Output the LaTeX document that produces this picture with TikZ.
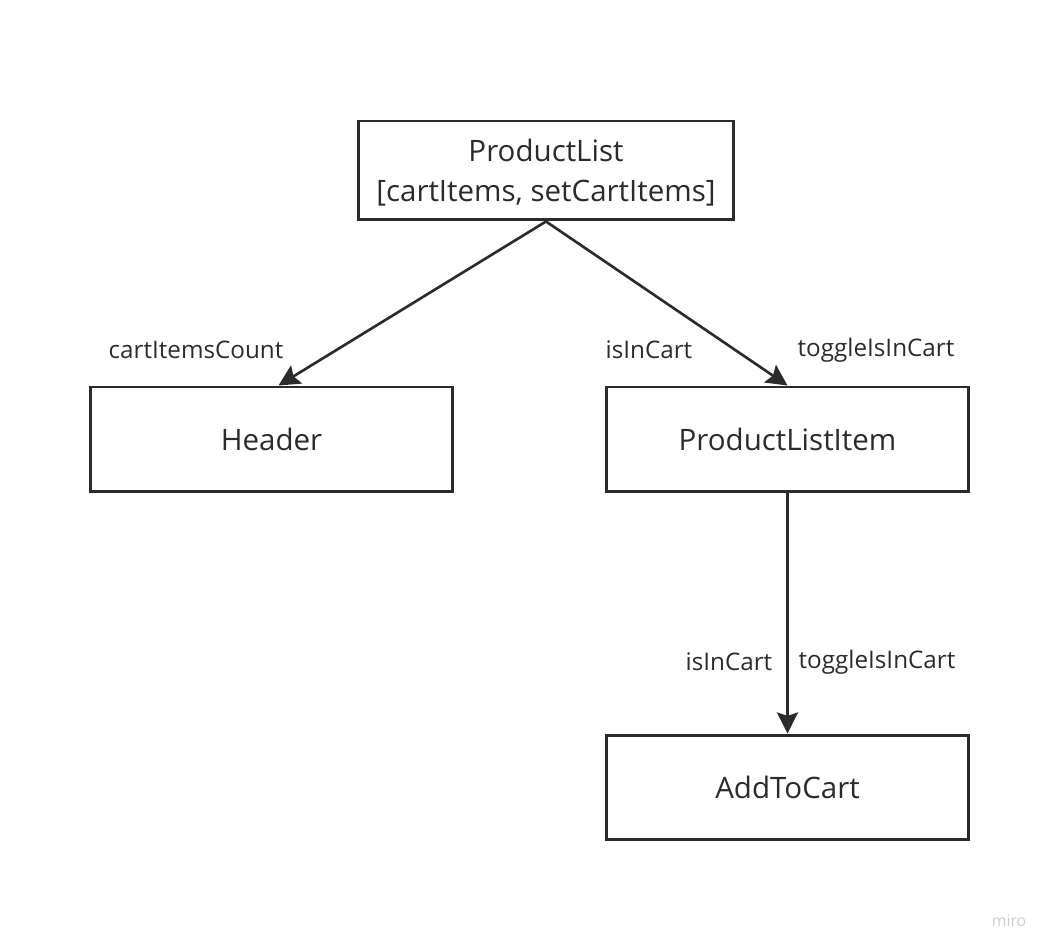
\documentclass[tikz,border=0pt]{standalone}
\usepackage{fontspec}
\setmainfont{Open Sans}
\usetikzlibrary{arrows.meta}
\definecolor{ink}{HTML}{2B2B2B}
\begin{document}
\begin{tikzpicture}[x=0.02cm,y=-0.02cm,
  comp/.style={draw=ink,line width=1.7pt,minimum width=7.26cm,minimum height=2.1cm,font=\fontsize{16.8}{23}\selectfont,text=ink,align=center},
  prop/.style={text=ink,font=\fontsize{13.8}{16}\selectfont},
  link/.style={draw=ink,line width=1.5pt,-{Stealth[length=12pt,width=12pt,inset=2pt]}}]
\useasboundingbox (0,0) rectangle (1049,952);
\node[comp,minimum width=7.52cm,minimum height=1.98cm,text depth=-2pt] (pl) at (546,170.5) {ProductList\\{}[cartItems, setCartItems]};
\node[comp] (hd) at (271.5,439.5) {Header};
\node[comp] (pli) at (787.5,439.5) {ProductListItem};
\node[comp] (atc) at (787.5,787.5) {AddToCart};
\draw[link] (pl.south) -- ([xshift=4]hd.north);
\draw[link] (pl.south) -- (pli.north);
\draw[link] (pli.south) -- (atc.north);
\node[prop] (cic) at (196,350) {cartItemsCount};
\node[prop] (iic1) at (649,350) {isInCart};
\node[prop] (tic1) at (876,350) {toggleIsInCart};
\node[prop] (iic2) at (729,662) {isInCart};
\node[prop] (tic2) at (877,662) {toggleIsInCart};
\node[text=black!20,font=\fontsize{9}{10}\selectfont] (miro) at (1009,921) {miro};
\end{tikzpicture}
\end{document}
